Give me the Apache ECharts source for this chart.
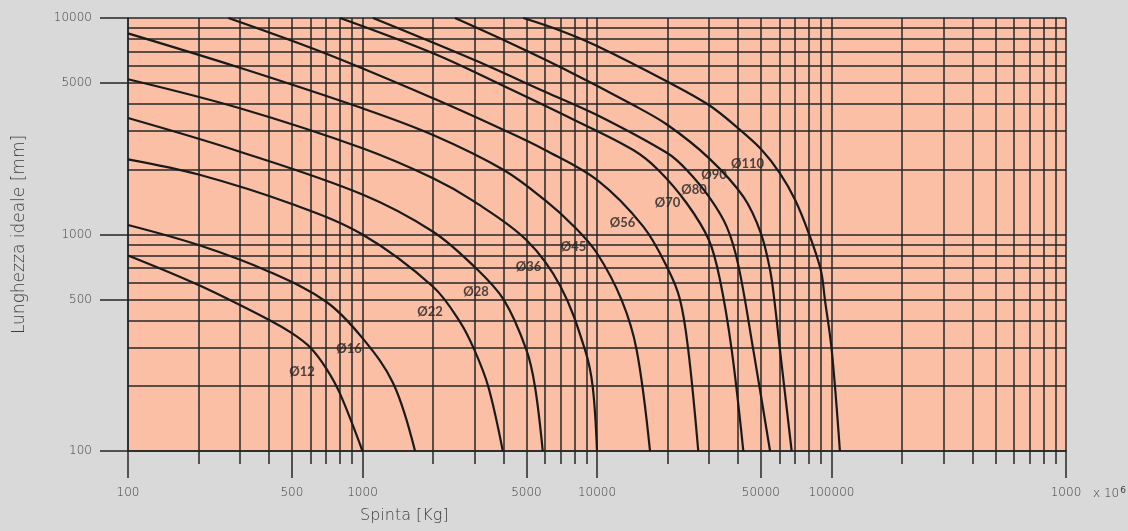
<!DOCTYPE html>
<html>
<head>
<meta charset="utf-8">
<script src="https://cdn.jsdelivr.net/npm/echarts@6/dist/echarts.min.js"></script>
<style>
html,body{margin:0;padding:0;background:#d9d9d9;}
#c{width:1128px;height:531px;}
</style>
</head>
<body>
<div id="c"></div>
<script>
// ---- tick / grid values ----
const gridMultipliers = [1,2,3,4,5,6,7,8,9];
const xDecades = [100, 1000, 10000, 100000];
const yDecades = [100, 1000];
const xLabelValues = [100, 500, 1000, 5000, 10000, 50000, 100000, 1000000];
const xLabelTexts  = ['100','500','1000','5000','10000','50000','100000','1000'];
const yLabelValues = [100, 500, 1000, 5000, 10000];
const yLabelTexts  = ['100','500','1000','5000','10000'];

// ---- curves: [Spinta Kg, Lunghezza mm] ----
const d12 = [[100,800],[200,584],[400,403],[500,350],[600,300],[700,241],[800,185],[1000,100]];
const d16 = [[100,1107],[200,894],[400,673],[700,489],[1000,332],[1353,205],[1675,100]];
const d22 = [[100,2225],[200,1893],[500,1383],[1000,1000],[2000,574],[2604,395],[3000,293],[3440,198],[3965,100]];
const d28 = [[100,3451],[300,2413],[1000,1530],[2000,1030],[3000,710],[4000,500],[5000,293],[5440,198],[5870,100]];
const d36 = [[100,5212],[300,3828],[1000,2501],[2000,1818],[3000,1418],[5000,943],[7000,574],[8892,293],[9588,198],[10000,100]];
const d45 = [[100,8496],[300,5893],[1000,3828],[2000,2882],[4000,1986],[6000,1440],[8000,1087],[10000,819],[12740,498],[14760,293],[16830,100]];
const d56 = [[268,10000],[692,6870],[2000,4257],[4000,3039],[6000,2456],[10000,1786],[15760,1087],[20000,698],[22600,500],[24500,293],[27030,100]];
const d70 = [[802,10000],[2000,6870],[4000,4851],[8000,3380],[14270,2455],[18250,1986],[24130,1394],[30000,943],[33460,616],[37530,293],[42070,100]];
const d80 = [[1109,10000],[3000,6397],[6000,4566],[10000,3565],[20000,2372],[24130,1986],[30000,1495],[35730,1087],[40050,722],[46400,293],[54700,100]];
const d90 = [[2480,10000],[4000,7909],[7000,5919],[14270,3963],[20000,3205],[30000,2254],[42070,1495],[50000,1013],[54700,685],[57050,498],[60290,293],[67620,100]];
const d110 = [[4850,10000],[7000,8738],[10000,7427],[20000,5078],[30000,3963],[40000,3094],[50000,2483],[60290,1918],[70000,1444],[80000,1013],[90000,685],[93780,498],[100200,293],[108600,100]];

const curveNames = ['Ø12','Ø16','Ø22','Ø28','Ø36','Ø45','Ø56','Ø70','Ø80','Ø90','Ø110'];
const curveData = [d12,d16,d22,d28,d36,d45,d56,d70,d80,d90,d110];

// label anchor points [Spinta, Lunghezza]
const labelPoints = [[552,232],[876,296],[1941,439],[3048,542],[5108,708],[7944,875],[12845,1130],[19980,1398],[25920,1605],[31550,1883],[43830,2117]];

// ---- build ----
const xGrid = [];
xDecades.forEach(d => gridMultipliers.forEach(m => xGrid.push(d*m)));
xGrid.push(1000000);
const yGrid = [];
yDecades.forEach(d => gridMultipliers.forEach(m => yGrid.push(d*m)));
yGrid.push(10000);

function fmt(values, texts){
  return function(v){
    for (let i=0;i<values.length;i++){
      if (Math.abs(Math.log10(v)-Math.log10(values[i]))<1e-6) return texts[i];
    }
    return '';
  };
}

const lineC = '#262626';
const font = '"DejaVu Sans", sans-serif';
const labFont = 'Lato, "DejaVu Sans", sans-serif';
const txtC = '#3c3c3c';

const series = curveData.map((d,i)=>({
  name: curveNames[i], type:'line', data:d, xAxisIndex:0, yAxisIndex:0,
  showSymbol:false, symbol:'none', smooth:0.35, silent:true,
  lineStyle:{color:'#1a1a1a', width:2.2}
}));
series.push({
  type:'scatter', xAxisIndex:0, yAxisIndex:0, symbolSize:0, silent:true,
  data: labelPoints.map((p,i)=>({value:p, name:curveNames[i]})),
  label:{show:true, position:'inside', formatter:p=>p.name, color:'#222',
         fontSize:13, fontWeight:'bold', fontFamily:labFont},
  z:5
});

const chart = echarts.init(document.getElementById('c'), null, {renderer:'canvas'});
chart.setOption({
  animation:false,
  backgroundColor:'#d9d9d9',
  grid:{left:128, right:62, top:18, bottom:80, show:true, backgroundColor:'#fbbfa6', borderWidth:0},
  xAxis:[
    {type:'log', logBase:10, min:100, max:1000000, position:'bottom',
     axisLine:{show:true, onZero:false, lineStyle:{color:lineC, width:1.5}},
     axisTick:{show:true, customValues:xGrid, length:13, lineStyle:{color:lineC, width:1.5}},
     axisLabel:{show:false},
     splitLine:{show:true, lineStyle:{color:lineC, width:1.5}}},
    {type:'log', logBase:10, min:100, max:1000000, position:'bottom',
     axisLine:{show:false},
     axisTick:{show:true, customValues:xLabelValues, length:27, lineStyle:{color:lineC, width:1.5}},
     axisLabel:{show:true, customValues:xLabelValues, formatter:fmt(xLabelValues,xLabelTexts),
                margin:36, color:txtC, fontSize:12, fontWeight:200, fontFamily:font},
     splitLine:{show:false}}
  ],
  yAxis:[
    {type:'log', logBase:10, min:100, max:10000, position:'left',
     axisLine:{show:true, onZero:false, lineStyle:{color:lineC, width:1.5}},
     axisTick:{show:true, customValues:yGrid, length:0},
     axisLabel:{show:false},
     splitLine:{show:true, lineStyle:{color:lineC, width:1.5}}},
    {type:'log', logBase:10, min:100, max:10000, position:'left',
     axisLine:{show:false},
     axisTick:{show:true, customValues:yLabelValues, length:28, lineStyle:{color:lineC, width:1.5}},
     axisLabel:{show:true, customValues:yLabelValues, formatter:fmt(yLabelValues,yLabelTexts),
                margin:36, color:txtC, fontSize:12, fontWeight:200, fontFamily:font},
     splitLine:{show:false},
     name:'Lunghezza ideale [mm]', nameLocation:'middle', nameGap:100,
     nameTextStyle:{color:txtC, fontSize:17, fontWeight:200, fontFamily:font}}
  ],
  graphic:[
    {type:'text', left:360, top:508, style:{text:'Spinta [Kg]', fill:txtC, fontSize:16, fontWeight:200, fontFamily:font}},
    {type:'text', left:1093, top:486, style:{text:'x 10{s|6}', fill:txtC, fontSize:12, fontWeight:200, fontFamily:font,
       rich:{s:{fontSize:9, verticalAlign:'top', fill:txtC, fontFamily:font, padding:[0,0,7,1]}}}}
  ],
  series: series
});
</script>
</body>
</html>
